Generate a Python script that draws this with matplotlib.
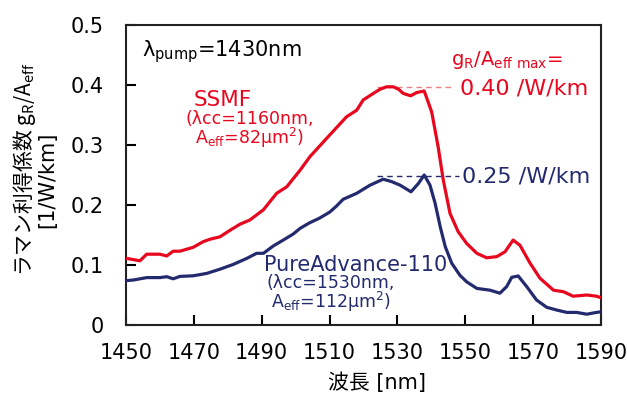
import matplotlib
matplotlib.use("Agg")
import matplotlib.pyplot as plt

plt.rcParams['font.family'] = ['DejaVu Sans', 'Noto Sans CJK JP']
plt.rcParams['mathtext.fontset'] = 'dejavusans'

# Data (wavelength nm, Raman gain efficiency 1/W/km)
ssmf_wl = [1450.2, 1454.1, 1456.1, 1460.0, 1462.0, 1463.9, 1465.9, 1469.8, 1472.8, 1474.8,
           1477.7, 1480.7, 1483.6, 1486.5, 1490.5, 1494.4, 1497.4, 1501.3, 1504.2, 1510.1,
           1515.0, 1518.0, 1519.9, 1522.9, 1524.9, 1526.8, 1528.8, 1530.3, 1531.7, 1533.9,
           1535.7, 1537.9, 1540.1, 1542.0, 1543.5, 1545.5, 1547.9, 1550.4, 1553.4, 1556.3,
           1559.3, 1561.7, 1564.1, 1566.1, 1569.1, 1572.0, 1576.0, 1578.9, 1581.8, 1585.8,
           1588.7, 1590.0]
ssmf_g = [0.111, 0.107, 0.118, 0.118, 0.115, 0.123, 0.123, 0.1295, 0.139, 0.143,
          0.147, 0.158, 0.168, 0.175, 0.192, 0.2195, 0.2305, 0.258, 0.2805, 0.317,
          0.347, 0.358, 0.375, 0.386, 0.393, 0.397, 0.397, 0.393, 0.386, 0.382,
          0.3875, 0.390, 0.355, 0.297, 0.242, 0.186, 0.1555, 0.136, 0.1195, 0.112,
          0.114, 0.122, 0.1415, 0.133, 0.103, 0.078, 0.058, 0.0555, 0.048, 0.050,
          0.048, 0.0455]

pa_wl = [1450.2, 1452.2, 1456.1, 1460.0, 1462.0, 1463.9, 1465.9, 1469.8, 1473.8, 1477.7,
         1481.6, 1485.6, 1488.5, 1490.5, 1493.4, 1496.4, 1499.3, 1501.3, 1504.0, 1507.0,
         1510.0, 1512.0, 1514.0, 1518.0, 1521.9, 1525.8, 1528.3, 1530.8, 1534.0, 1536.2,
         1537.9, 1539.6, 1541.1, 1542.6, 1544.1, 1546.0, 1548.4, 1550.4, 1553.4, 1557.3,
         1560.2, 1562.2, 1563.7, 1565.6, 1568.1, 1571.0, 1574.0, 1576.9, 1579.9, 1582.8,
         1585.8, 1588.7, 1590.0]
pa_g = [0.074, 0.075, 0.079, 0.079, 0.0805, 0.077, 0.081, 0.082, 0.086, 0.093,
        0.101, 0.111, 0.1195, 0.1195, 0.1317, 0.1417, 0.1517, 0.161, 0.170, 0.178,
        0.188, 0.198, 0.2095, 0.2195, 0.233, 0.243, 0.239, 0.233, 0.222, 0.236,
        0.250, 0.233, 0.203, 0.164, 0.1305, 0.103, 0.083, 0.072, 0.061, 0.058,
        0.053, 0.064, 0.0795, 0.0817, 0.064, 0.0417, 0.0295, 0.025, 0.021, 0.021,
        0.018, 0.021, 0.022]

ssmf_max = 0.397
pa_max = 0.249
xticks = [1450, 1470, 1490, 1510, 1530, 1550, 1570, 1590]
yticks = [0, 0.1, 0.2, 0.3, 0.4, 0.5]
ytick_labels = ['0', '0.1', '0.2', '0.3', '0.4', '0.5']

RED = '#E8071E'
BLUE = '#232B6E'
W, H = 627, 394

fig = plt.figure(figsize=(6.27, 3.94), dpi=100)
ax = fig.add_axes([126/W, 1-325/H, (601-126)/W, (325-25)/H])

ax.plot(ssmf_wl, ssmf_g, color=RED, lw=2.3, zorder=3)
ax.plot(pa_wl, pa_g, color=BLUE, lw=2.3, zorder=3)

ax.plot([1523.9, 1546.4], [ssmf_max, ssmf_max], color='#F07C86', lw=1.0, ls=(0, (4, 3)), zorder=2)
ax.plot([1524.0, 1548.2], [pa_max, pa_max], color=BLUE, lw=1.0, ls=(0, (4, 3)), zorder=2)

ax.set_xlim(1450, 1590)
ax.set_ylim(0, 0.5)
ax.set_xticks(xticks)
ax.set_xticklabels([str(t) for t in xticks])
ax.set_yticks(yticks)
ax.set_yticklabels(ytick_labels)
ax.tick_params(axis='both', direction='in', length=7, width=1.5, labelsize=15, colors='black')
ax.tick_params(axis='x', pad=13)
ax.tick_params(axis='y', pad=16)
for s in ax.spines.values():
    s.set_linewidth(1.5)
    s.set_color('#222222')

# axis labels placed in figure pixels
fig.text(377.5/W, 1-383/H, '波長 [nm]', fontsize=15, ha='center', va='center')
fig.text(25/W, 1-169/H, 'ラマン利得係数 g$_\\mathregular{R}$/A$_\\mathregular{eff}$',
         fontsize=15, rotation=90, ha='center', va='center', family='Noto Sans CJK JP')
fig.text(47/W, 1-180/H, '[1/W/km]', fontsize=15, rotation=90, ha='center', va='center')

ax.text(1454.8, 0.455, 'λ$_\\mathregular{pump}$=1430nm', fontsize=15, va='center', ha='left')

ax.text(1545.9, 0.442, 'g$_\\mathregular{R}$/A$_\\mathregular{eff\\ max}$=', fontsize=14,
        color=RED, va='center', ha='left')
ax.text(1548.5, 0.395, '0.40 /W/km', fontsize=16, color=RED, va='center', ha='left')
ax.text(1549.1, 0.248, '0.25 /W/km', fontsize=16, color=BLUE, va='center', ha='left')

ax.text(1478.6, 0.375, 'SSMF', fontsize=15.5, color=RED, va='center', ha='center')
ax.text(1486.5, 0.325, '(λcc=1160nm,\nA$_\\mathregular{eff}$=82μm$^\\mathregular{2}$)',
        fontsize=12.5, color=RED, va='center', ha='center', multialignment='center',
        linespacing=0.9)

ax.text(1517.8, 0.100, 'PureAdvance-110', fontsize=15, color=BLUE, va='center', ha='center')
ax.text(1510.4, 0.052, '(λcc=1530nm,\nA$_\\mathregular{eff}$=112μm$^\\mathregular{2}$)',
        fontsize=12.5, color=BLUE, va='center', ha='center', multialignment='center',
        linespacing=0.9)

fig.savefig('out.png', dpi=100)
